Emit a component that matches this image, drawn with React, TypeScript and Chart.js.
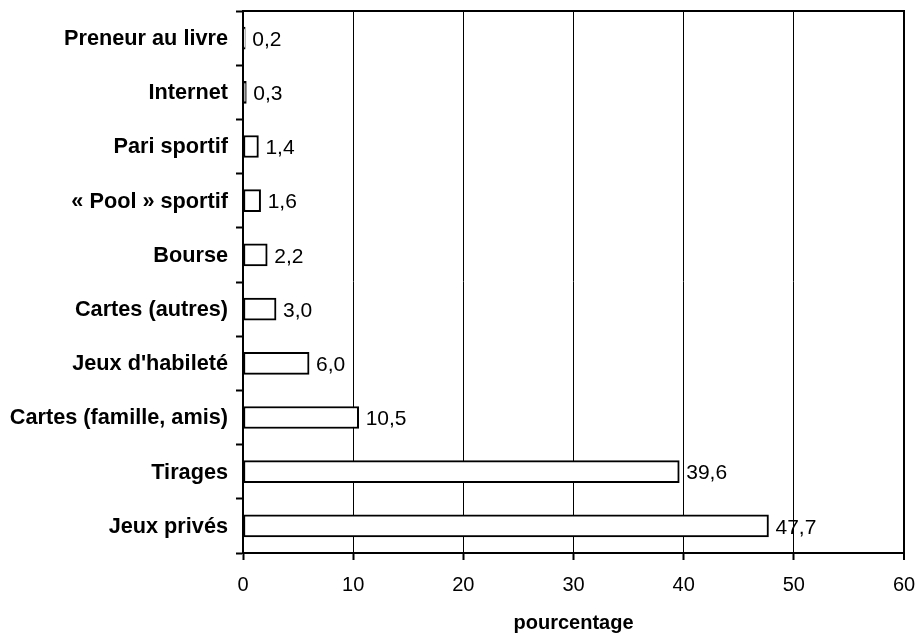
import React, { useEffect, useRef } from "react";
import { Chart, registerables } from "chart.js";

Chart.register(...registerables);

const categories = [
  "Preneur au livre",
  "Internet",
  "Pari sportif",
  "« Pool » sportif",
  "Bourse",
  "Cartes (autres)",
  "Jeux d'habileté",
  "Cartes (famille, amis)",
  "Tirages",
  "Jeux privés",
];
const values = [0.2, 0.3, 1.4, 1.6, 2.2, 3.0, 6.0, 10.5, 39.6, 47.7];
const xTicks = [0, 10, 20, 30, 40, 50, 60];
const xTitle = "pourcentage";

const FONT = "'Liberation Sans', Arial, sans-serif";

const fmt = (v: number) => v.toFixed(1).replace(".", ",");

const framePlugin = {
  id: "frame",
  afterDatasetsDraw(chart: any) {
    const { ctx, chartArea } = chart;
    ctx.save();
    ctx.strokeStyle = "#000";
    ctx.lineWidth = 2;
    ctx.beginPath();
    ctx.moveTo(chartArea.left, chartArea.top);
    ctx.lineTo(chartArea.right, chartArea.top);
    ctx.lineTo(chartArea.right, chartArea.bottom);
    ctx.stroke();
    // data labels
    const meta = chart.getDatasetMeta(0);
    ctx.fillStyle = "#000";
    ctx.font = `21px ${FONT}`;
    ctx.textAlign = "left";
    ctx.textBaseline = "middle";
    meta.data.forEach((bar: any, i: number) => {
      ctx.fillText(fmt(values[i]), bar.x + 7, bar.y + 2);
    });
    ctx.restore();
  },
};

export default function App() {
  const ref = useRef<HTMLCanvasElement>(null);
  useEffect(() => {
    if (!ref.current) return;
    const chart = new Chart(ref.current, {
      type: "bar",
      data: {
        labels: categories,
        datasets: [
          {
            data: values,
            backgroundColor: "#fff",
            borderColor: "#000",
            borderWidth: 2,
            borderSkipped: false,
            barThickness: 22,
          },
        ],
      },
      options: {
        indexAxis: "y",
        animation: false,
        responsive: true,
        maintainAspectRatio: false,
        layout: { padding: { top: 11, right: 15, left: 0, bottom: 0 } },
        plugins: {
          legend: { display: false },
          tooltip: { enabled: false },
        },
        scales: {
          x: {
            type: "linear",
            min: 0,
            max: 60,
            afterBuildTicks: (scale: any) => {
              scale.ticks = xTicks.map((v) => ({ value: v }));
            },
            afterFit: (scale: any) => {
              scale.height = 82;
              scale.paddingLeft = 0;
              scale.paddingRight = 0;
            },
            ticks: {
              color: "#000",
              font: { family: FONT, size: 20 },
              padding: 13,
              maxRotation: 0,
            },
            grid: {
              color: "#000",
              lineWidth: (c: any) => (c.tick && c.tick.value === 60 ? 2 : 1),
              tickLength: 7,
              tickWidth: 2,
              tickColor: "#000",
            },
            border: { display: true, color: "#000", width: 2 },
            title: {
              display: true,
              text: xTitle,
              color: "#000",
              font: { family: FONT, size: 20, weight: "bold" },
              padding: { top: 8, bottom: 0 },
            },
          },
          y: {
            type: "category",
            afterFit: (scale: any) => {
              scale.width = 243;
              scale.paddingTop = 0;
              scale.paddingBottom = 0;
            },
            ticks: {
              color: "#000",
              font: { family: FONT, size: 21.7, weight: "bold" },
              padding: 8,
              labelOffset: 1,
            },
            grid: {
              drawOnChartArea: false,
              offset: true,
              tickLength: 7,
              tickWidth: 2,
              tickColor: "#000",
              color: "#000",
            },
            border: { display: true, color: "#000", width: 2 },
          },
        },
      },
      plugins: [framePlugin],
    } as any);
    return () => chart.destroy();
  }, []);
  return (
    <div style={{ position: "absolute", left: 0, top: 0, width: 919, height: 635, background: "#fff" }}>
      <canvas ref={ref} />
    </div>
  );
}
